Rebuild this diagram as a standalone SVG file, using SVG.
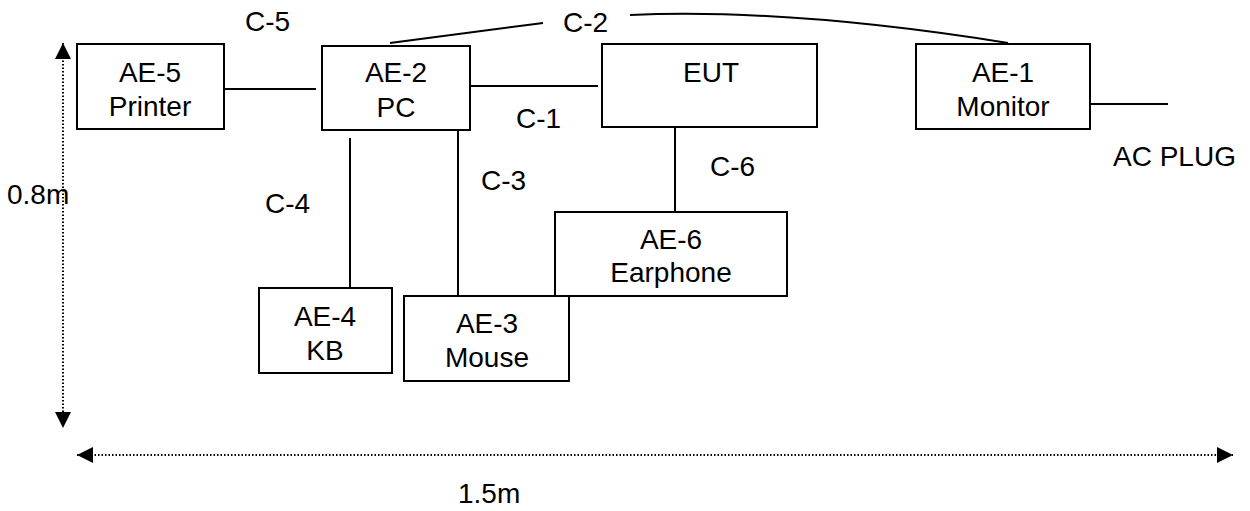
<svg xmlns="http://www.w3.org/2000/svg" width="1250" height="511" viewBox="0 0 1250 511">
<style>
  .box { fill: #fff; stroke: #000; stroke-width: 2; }
  .wire { fill: none; stroke: #000; stroke-width: 2; }
  .dim { fill: none; stroke: #000; stroke-width: 2; stroke-dasharray: 1.5 2; }
  text { font-family: "Liberation Sans", Arial, sans-serif; font-size: 28px; fill: #000; }
  .c { text-anchor: middle; }
</style>
<defs>
  <marker id="arr" markerUnits="userSpaceOnUse" markerWidth="16" markerHeight="16" viewBox="0 0 15 15" refX="15" refY="7.5" orient="auto-start-reverse">
    <path d="M0,0 L15,7.5 L0,15 Z" fill="#000"/>
  </marker>
</defs>
<rect width="1250" height="511" fill="#fff"/>

<g id="connectors">
  <line class="wire" x1="224" y1="89" x2="316" y2="89"/>
  <line class="wire" x1="470" y1="86" x2="598" y2="86"/>
  <line class="wire" x1="390" y1="43" x2="543" y2="23"/>
  <path class="wire" d="M630,15 Q790,8 1008,43"/>
  <line class="wire" x1="350" y1="138" x2="350" y2="288"/>
  <line class="wire" x1="458" y1="128" x2="458" y2="295"/>
  <line class="wire" x1="675" y1="127" x2="675" y2="212"/>
  <line class="wire" x1="1090" y1="104" x2="1168" y2="104"/>
  <text x="245" y="31">C-5</text>
  <text x="563" y="32">C-2</text>
  <text x="516" y="128">C-1</text>
  <text x="481" y="190">C-3</text>
  <text x="265" y="213">C-4</text>
  <text x="710" y="176">C-6</text>
  <text x="1113" y="166">AC PLUG</text>
</g>

<g id="dimensions">
  <line class="dim" x1="63" y1="43" x2="63" y2="428" marker-start="url(#arr)" marker-end="url(#arr)"/>
  <line class="dim" x1="77" y1="455" x2="1233" y2="455" marker-start="url(#arr)" marker-end="url(#arr)"/>
  <text x="7" y="204">0.8m</text>
  <text x="458" y="503">1.5m</text>
</g>

<g id="AE-5">
  <rect class="box" x="77" y="44" width="147" height="85"/>
  <text class="c" x="150" y="82">AE-5</text>
  <text class="c" x="150" y="116">Printer</text>
</g>
<g id="AE-2">
  <rect class="box" x="322" y="46" width="148" height="84"/>
  <text class="c" x="396" y="82">AE-2</text>
  <text class="c" x="396" y="117">PC</text>
</g>
<g id="EUT">
  <rect class="box" x="602" y="44" width="215" height="83"/>
  <text class="c" x="711" y="82">EUT</text>
</g>
<g id="AE-1">
  <rect class="box" x="916" y="44" width="174" height="85"/>
  <text class="c" x="1003" y="82">AE-1</text>
  <text class="c" x="1003" y="116">Monitor</text>
</g>
<g id="AE-6">
  <rect class="box" x="555" y="212" width="232" height="84"/>
  <text class="c" x="671" y="249">AE-6</text>
  <text class="c" x="671" y="282">Earphone</text>
</g>
<g id="AE-4">
  <rect class="box" x="259" y="288" width="133" height="85"/>
  <text class="c" x="325" y="326">AE-4</text>
  <text class="c" x="325" y="360">KB</text>
</g>
<g id="AE-3">
  <rect class="box" x="404" y="296" width="165" height="85"/>
  <text class="c" x="487" y="333">AE-3</text>
  <text class="c" x="487" y="367">Mouse</text>
</g>
</svg>
